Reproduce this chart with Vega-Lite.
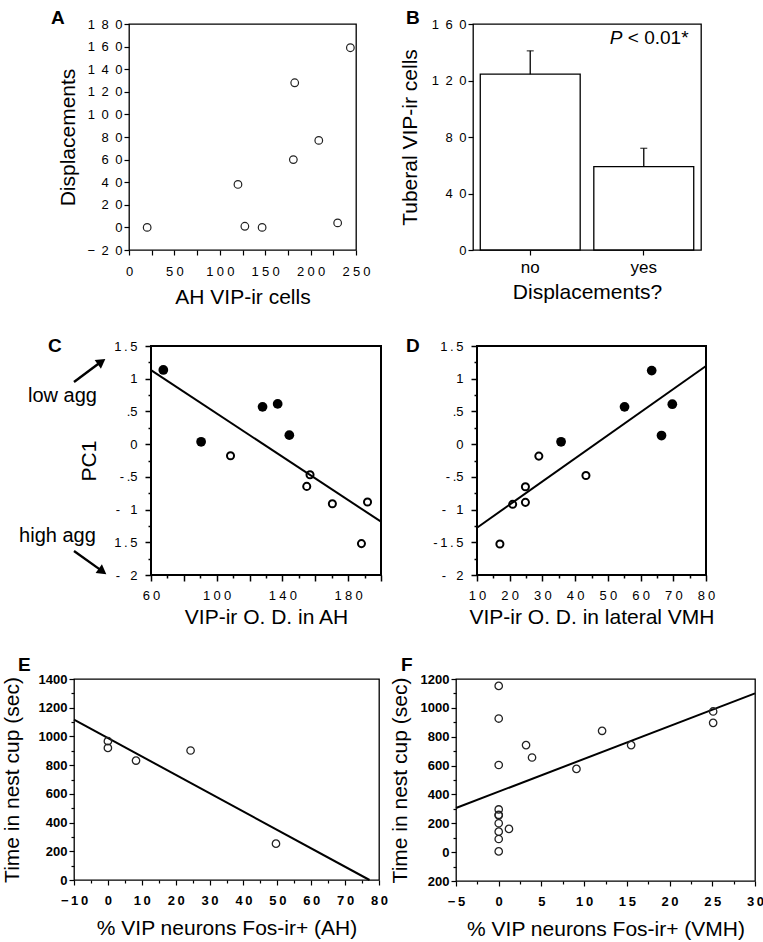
{
  "$schema": "https://vega.github.io/schema/vega-lite/v6.json",
  "padding": {"left": 0, "top": 8, "right": 0, "bottom": 0},
  "background": "white",
  "config": {
    "font": "Liberation Sans",
    "view": {"stroke": "black", "strokeWidth": 1.3},
    "axis": {"domain": false, "grid": false, "tickColor": "black", "labelColor": "black", "titleColor": "black", "labelFont": "Liberation Sans", "titleFont": "Liberation Sans", "titleFontWeight": "normal", "titleFontSize": 21, "labelFontSize": 13, "labelOverlap": false, "labelFlush": false, "labelBound": false, "tickSize": 5, "tickWidth": 1.2},
    "title": {"fontSize": 19, "fontWeight": "bold", "anchor": "start", "frame": "group", "color": "black", "font": "Liberation Sans", "offset": 0},
    "text": {"font": "Liberation Sans", "fontSize": 19, "color": "black"}
  },
  "datasets": {
    "A": [{"x": 20, "y": 0}, {"x": 120, "y": 38}, {"x": 127.6, "y": 1}, {"x": 146.6, "y": 0}, {"x": 181, "y": 60}, {"x": 182.5, "y": 128}, {"x": 209, "y": 77}, {"x": 229.8, "y": 4}, {"x": 243.8, "y": 159}],
    "B": [{"cat": "no", "mean": 124.5, "upper": 141}, {"cat": "yes", "mean": 59, "upper": 72}],
    "C_filled": [{"x": 67.5, "y": 1.134}, {"x": 90.5, "y": 0.036}, {"x": 127.9, "y": 0.57}, {"x": 137.1, "y": 0.615}, {"x": 144.2, "y": 0.137}],
    "C_open": [{"x": 108.4, "y": -0.178}, {"x": 156.8, "y": -0.468}, {"x": 154.8, "y": -0.646}, {"x": 170.4, "y": -0.91}, {"x": 191.8, "y": -0.885}, {"x": 188.1, "y": -1.52}],
    "C_fit": [{"x": 60, "y": 1.13}, {"x": 200, "y": -1.185}],
    "C_arrows": [{"label": "low agg", "x1": 13.13, "y1": 0.95, "x2": 28.0, "y2": 1.23}, {"label": "high agg", "x1": 13.13, "y1": -1.633, "x2": 28.6, "y2": -1.91}],
    "C_heads": [{"label": "low agg", "x": 29.9, "y": 1.26, "angle": 54}, {"label": "high agg", "x": 30.5, "y": -1.945, "angle": 126}],
    "C_labels": [{"label": "low agg", "x": -14.9, "y": 0.74}, {"label": "high agg", "x": -20.3, "y": -1.4}],
    "D_filled": [{"x": 35.7, "y": 0.036}, {"x": 55.1, "y": 0.57}, {"x": 63.4, "y": 1.124}, {"x": 66.4, "y": 0.132}, {"x": 69.7, "y": 0.61}],
    "D_open": [{"x": 17.0, "y": -1.526}, {"x": 20.9, "y": -0.92}, {"x": 24.8, "y": -0.65}, {"x": 24.8, "y": -0.89}, {"x": 28.9, "y": -0.183}, {"x": 43.3, "y": -0.478}],
    "D_fit": [{"x": 10, "y": -1.277}, {"x": 80, "y": 1.195}],
    "E": [{"x": 0, "y": 967}, {"x": 0, "y": 920}, {"x": 8.3, "y": 832}, {"x": 24.4, "y": 902}, {"x": 49.6, "y": 253}],
    "E_fit": [{"x": -10, "y": 1117}, {"x": 77.2, "y": 0}],
    "F": [{"x": 0, "y": 1152}, {"x": 0, "y": 926}, {"x": 0, "y": 604}, {"x": 0, "y": 296}, {"x": 0, "y": 259}, {"x": 0, "y": 255}, {"x": 0, "y": 200}, {"x": 0, "y": 142}, {"x": 0, "y": 91}, {"x": 0, "y": 5}, {"x": 1.2, "y": 161}, {"x": 3.2, "y": 742}, {"x": 3.9, "y": 656}, {"x": 9.1, "y": 577}, {"x": 12.1, "y": 841}, {"x": 15.5, "y": 742}, {"x": 25.1, "y": 975}, {"x": 25.1, "y": 896}],
    "F_fit": [{"x": -5, "y": 306}, {"x": 30, "y": 1100}]
  },
  "spacing": 0,
  "vconcat": [
    {
      "bounds": "flush",
      "spacing": 0,
      "hconcat": [
        {"width": 128, "height": 312, "data": {"values": []}, "mark": "point", "encoding": {}, "view": {"stroke": null, "fill": "white"}},
        {
          "width": 227, "height": 226,
          "title": {"text": "A", "dx": -78, "dy": 14},
          "encoding": {
            "x": {"field": "x", "type": "quantitative", "scale": {"domain": [0, 250], "nice": false, "zero": false},
              "axis": {"title": "AH VIP-ir cells", "values": [0, 25, 50, 75, 100, 125, 150, 175, 200, 225, 250], "labelExpr": "datum.value % 50 == 0 ? join(split(datum.label, ''), '\u2005') : ''", "labelPadding": 10, "titlePadding": 8}},
            "y": {"field": "y", "type": "quantitative", "scale": {"domain": [-20, 180], "nice": false, "zero": false},
              "axis": {"title": "Displacements", "values": [-20, 0, 20, 40, 60, 80, 100, 120, 140, 160, 180], "labelExpr": "join(split(datum.label, ''), '\u2002')", "labelPadding": 2, "titlePadding": 8}}
          },
          "layer": [
            {"data": {"values": [{}]}, "mark": {"type": "rule", "color": "#444", "strokeWidth": 1}, "encoding": {"y": {"datum": 0}, "x": {"datum": 0}, "x2": {"datum": 250}}},
            {"data": {"name": "A"}, "mark": {"type": "point", "shape": "circle", "filled": false, "stroke": "#222", "strokeWidth": 1.2, "size": 58, "opacity": 1}},
            {"data": {"values": [{}]}, "mark": {"type": "text", "text": "ρ", "fontStyle": "italic", "align": "left", "baseline": "middle"}, "encoding": {"x": {"datum": 10}, "y": {"datum": 169}}},
            {"data": {"values": [{}]}, "mark": {"type": "text", "text": "= 0.695", "align": "left", "baseline": "middle"}, "encoding": {"x": {"datum": 27.5}, "y": {"datum": 169}}},
            {"data": {"values": [{}]}, "mark": {"type": "text", "text": "P", "fontStyle": "italic", "align": "left", "baseline": "middle"}, "encoding": {"x": {"datum": 8.8}, "y": {"datum": 150}}},
            {"data": {"values": [{}]}, "mark": {"type": "text", "text": "< 0.05*", "align": "left", "baseline": "middle"}, "encoding": {"x": {"datum": 29.7}, "y": {"datum": 150}}}
          ]
        },
        {"width": 117, "height": 1, "data": {"values": []}, "mark": "point", "encoding": {}, "view": {"stroke": null}},
        {
          "width": 228, "height": 226,
          "title": {"text": "B", "dx": -67, "dy": 14},
          "data": {"name": "B"},
          "encoding": {
            "x": {"field": "cat", "type": "nominal", "scale": {"paddingInner": 0.12, "paddingOuter": 0.064},
              "axis": {"title": "Displacements?", "labelAngle": 0, "labelFontSize": 17, "labelPadding": 4, "titlePadding": 6}}
          },
          "layer": [
            {"mark": {"type": "bar", "fill": "white", "stroke": "black", "strokeWidth": 1.3},
              "encoding": {"y": {"field": "mean", "type": "quantitative", "scale": {"domain": [0, 160], "nice": false, "zero": false},
                "axis": {"title": "Tuberal VIP-ir cells", "values": [0, 10, 20, 30, 40, 50, 60, 70, 80, 90, 100, 110, 120, 130, 140, 150, 160], "labelExpr": "datum.value % 20 == 0 ? join(split(datum.label, ''), '\u2002') : ''", "labelPadding": 2, "titlePadding": 11}}}},
            {"mark": {"type": "rule", "color": "black", "strokeWidth": 1.3}, "encoding": {"y": {"field": "mean", "type": "quantitative"}, "y2": {"field": "upper"}}},
            {"mark": {"type": "tick", "color": "black", "size": 7, "thickness": 1.3}, "encoding": {"y": {"field": "upper", "type": "quantitative"}}},
            {"data": {"values": [{}]}, "mark": {"type": "text", "text": "P", "fontStyle": "italic", "align": "left", "baseline": "middle", "dx": -34}, "encoding": {"x": {"datum": "yes"}, "y": {"datum": 150}}},
            {"data": {"values": [{}]}, "mark": {"type": "text", "text": "< 0.01*", "align": "left", "baseline": "middle", "dx": -16}, "encoding": {"x": {"datum": "yes"}, "y": {"datum": 150}}}
          ]
        }
      ]
    },
    {
      "bounds": "flush",
      "spacing": 0,
      "hconcat": [
        {
          "width": 150, "height": 309,
          "view": {"stroke": null, "fill": "white"},
          "layer": [
            {"data": {"name": "C_labels"}, "mark": {"type": "text", "fontSize": 20, "align": "left", "baseline": "middle"},
              "encoding": {"x": {"field": "x", "type": "quantitative", "scale": {"domain": [-31.3, 60], "nice": false, "zero": false}, "axis": null},
                "y": {"field": "y", "type": "quantitative", "scale": {"domain": [-3.2226, 1.5], "nice": false, "zero": false}, "axis": null},
                "text": {"field": "label"}}},
            {"data": {"name": "C_arrows"}, "mark": {"type": "rule", "color": "black", "strokeWidth": 2.4},
              "encoding": {"x": {"field": "x1", "type": "quantitative", "axis": null}, "y": {"field": "y1", "type": "quantitative", "axis": null}, "x2": {"field": "x2"}, "y2": {"field": "y2"}}},
            {"data": {"name": "C_heads"}, "mark": {"type": "point", "shape": "triangle-up", "filled": true, "fill": "black", "size": 115, "opacity": 1},
              "encoding": {"x": {"field": "x", "type": "quantitative", "axis": null}, "y": {"field": "y", "type": "quantitative", "axis": null}, "angle": {"field": "angle", "type": "quantitative", "scale": null}}}
          ]
        },
        {
          "width": 230, "height": 229,
          "view": {"stroke": "black", "strokeWidth": 2},
          "title": {"text": "C", "dx": -103, "dy": 20},
          "encoding": {
            "x": {"field": "x", "type": "quantitative", "scale": {"domain": [60, 200], "nice": false, "zero": false},
              "axis": {"title": "VIP-ir O. D. in AH", "values": [60, 70, 80, 90, 100, 110, 120, 130, 140, 150, 160, 170, 180, 190, 200], "labelExpr": "(datum.value - 60) % 40 == 0 && datum.value < 200 ? join(split(datum.label, ''), '\u2005') : ''", "tickSize": {"condition": {"test": "datum.value % 20 == 0", "value": 6}, "value": 3}, "tickWidth": 1.5, "labelPadding": 8, "titlePadding": 4}},
            "y": {"field": "y", "type": "quantitative", "scale": {"domain": [-2, 1.5], "nice": false, "zero": false},
              "axis": {"title": "PC1", "values": [-2, -1.75, -1.5, -1.25, -1, -0.75, -0.5, -0.25, 0, 0.25, 0.5, 0.75, 1, 1.25, 1.5], "labelExpr": "datum.value % 0.5 != 0 ? '' : datum.value == 0.5 ? '.5' : datum.value == -0.5 ? '-\u2009.5' : datum.value == -1 ? '-\u2002 1' : datum.value == -1.5 ? '1\u2009.\u20095' : datum.value == -2 ? '-\u2002 2' : datum.value == 1.5 ? '1\u2009.\u20095' : datum.value == 1 ? '1' : '0'", "tickSize": {"condition": {"test": "datum.value % 0.5 == 0", "value": 6}, "value": 3}, "tickWidth": 1.5, "labelPadding": 8, "titlePadding": 14}}
          },
          "layer": [
            {"data": {"values": [{}]}, "mark": {"type": "rule", "color": "#aaa", "strokeWidth": 1}, "encoding": {"y": {"datum": 0}, "x": {"datum": 60}, "x2": {"datum": 200}}},
            {"data": {"name": "C_fit"}, "mark": {"type": "line", "color": "black", "strokeWidth": 2}},
            {"data": {"name": "C_open"}, "mark": {"type": "point", "shape": "circle", "filled": false, "stroke": "black", "strokeWidth": 2, "size": 50, "opacity": 1}},
            {"data": {"name": "C_filled"}, "mark": {"type": "point", "shape": "circle", "filled": true, "fill": "black", "size": 95, "opacity": 1}},
            {"data": {"values": [{}]}, "mark": {"type": "text", "text": "r", "fontStyle": "italic", "align": "left", "baseline": "middle"}, "encoding": {"x": {"datum": 134.9}, "y": {"datum": 1.3}}},
            {"data": {"values": [{}]}, "mark": {"type": "text", "text": "= -0.812", "align": "left", "baseline": "middle"}, "encoding": {"x": {"datum": 140.5}, "y": {"datum": 1.3}}},
            {"data": {"values": [{}]}, "mark": {"type": "text", "text": "P", "fontStyle": "italic", "align": "left", "baseline": "middle"}, "encoding": {"x": {"datum": 135.5}, "y": {"datum": 0.95}}},
            {"data": {"values": [{}]}, "mark": {"type": "text", "text": "= 0.0024*", "align": "left", "baseline": "middle"}, "encoding": {"x": {"datum": 145.5}, "y": {"datum": 0.95}}}
          ]
        },
        {"width": 96, "height": 1, "data": {"values": []}, "mark": "point", "encoding": {}, "view": {"stroke": null}},
        {
          "width": 229, "height": 229,
          "view": {"stroke": "black", "strokeWidth": 2},
          "title": {"text": "D", "dx": -71, "dy": 20},
          "encoding": {
            "x": {"field": "x", "type": "quantitative", "scale": {"domain": [10, 80], "nice": false, "zero": false},
              "axis": {"title": "VIP-ir O. D. in lateral VMH", "values": [10, 15, 20, 25, 30, 35, 40, 45, 50, 55, 60, 65, 70, 75, 80], "labelExpr": "datum.value % 10 == 0 ? join(split(datum.label, ''), '\u2005') : ''", "tickSize": {"condition": {"test": "datum.value % 10 == 0", "value": 6}, "value": 3}, "tickWidth": 1.5, "labelPadding": 8, "titlePadding": 4}},
            "y": {"field": "y", "type": "quantitative", "scale": {"domain": [-2, 1.5], "nice": false, "zero": false},
              "axis": {"title": null, "values": [-2, -1.75, -1.5, -1.25, -1, -0.75, -0.5, -0.25, 0, 0.25, 0.5, 0.75, 1, 1.25, 1.5], "labelExpr": "datum.value % 0.5 != 0 ? '' : datum.value == 0.5 ? '.5' : datum.value == -0.5 ? '-\u2009.5' : datum.value == -1 ? '-\u2002 1' : datum.value == -1.5 ? '-\u20091\u2009.\u20095' : datum.value == -2 ? '-\u2002 2' : datum.value == 1.5 ? '1\u2009.\u20095' : datum.value == 1 ? '1' : '0'", "tickSize": {"condition": {"test": "datum.value % 0.5 == 0", "value": 6}, "value": 3}, "tickWidth": 1.5, "labelPadding": 8}}
          },
          "layer": [
            {"data": {"values": [{}]}, "mark": {"type": "rule", "color": "#bbb", "strokeWidth": 1}, "encoding": {"y": {"datum": 0}, "x": {"datum": 10}, "x2": {"datum": 80}}},
            {"data": {"name": "D_fit"}, "mark": {"type": "line", "color": "black", "strokeWidth": 2}},
            {"data": {"name": "D_open"}, "mark": {"type": "point", "shape": "circle", "filled": false, "stroke": "black", "strokeWidth": 2, "size": 50, "opacity": 1}},
            {"data": {"name": "D_filled"}, "mark": {"type": "point", "shape": "circle", "filled": true, "fill": "black", "size": 95, "opacity": 1}},
            {"data": {"values": [{}]}, "mark": {"type": "text", "text": "r", "fontStyle": "italic", "align": "left", "baseline": "middle"}, "encoding": {"x": {"datum": 12.75}, "y": {"datum": 1.255}}},
            {"data": {"values": [{}]}, "mark": {"type": "text", "text": "= 0.872", "align": "left", "baseline": "middle"}, "encoding": {"x": {"datum": 15.6}, "y": {"datum": 1.255}}},
            {"data": {"values": [{}]}, "mark": {"type": "text", "text": "P", "fontStyle": "italic", "align": "left", "baseline": "middle"}, "encoding": {"x": {"datum": 12.75}, "y": {"datum": 0.889}}},
            {"data": {"values": [{}]}, "mark": {"type": "text", "text": "= 0.0005*", "align": "left", "baseline": "middle"}, "encoding": {"x": {"datum": 17.2}, "y": {"datum": 0.889}}}
          ]
        }
      ]
    },
    {
      "bounds": "flush",
      "spacing": 0,
      "hconcat": [
        {"width": 73, "height": 1, "data": {"values": []}, "mark": "point", "encoding": {}, "view": {"stroke": null, "fill": "white"}},
        {
          "width": 305, "height": 201,
          "title": {"text": "E", "dx": -56, "dy": 6},
          "encoding": {
            "x": {"field": "x", "type": "quantitative", "scale": {"domain": [-10, 80], "nice": false, "zero": false},
              "axis": {"title": "% VIP neurons Fos-ir+ (AH)", "values": [-10, -5, 0, 5, 10, 15, 20, 25, 30, 35, 40, 45, 50, 55, 60, 65, 70, 75, 80], "labelExpr": "datum.value % 10 == 0 ? join(split(datum.label, ''), '\u2009') : ''", "labelFontWeight": "bold", "tickSize": {"condition": {"test": "datum.value % 10 == 0", "value": 5}, "value": 3}, "labelPadding": 9, "titlePadding": 10}},
            "y": {"field": "y", "type": "quantitative", "scale": {"domain": [0, 1400], "nice": false, "zero": false},
              "axis": {"title": "Time in nest cup (sec)", "format": "d", "values": [0, 100, 200, 300, 400, 500, 600, 700, 800, 900, 1000, 1100, 1200, 1300, 1400], "labelExpr": "datum.value % 200 == 0 ? datum.label : ''", "labelFontWeight": "bold", "tickSize": {"condition": {"test": "datum.value % 200 == 0", "value": 5}, "value": 3}, "labelPadding": 2, "titlePadding": 16}}
          },
          "layer": [
            {"data": {"values": [{}]}, "mark": {"type": "rule", "color": "#888", "strokeWidth": 1}, "encoding": {"x": {"datum": 0}, "y": {"datum": 0}, "y2": {"datum": 1400}}},
            {"data": {"name": "E_fit"}, "mark": {"type": "line", "color": "black", "strokeWidth": 2}},
            {"data": {"name": "E"}, "mark": {"type": "point", "shape": "circle", "filled": false, "stroke": "#222", "strokeWidth": 1.3, "size": 55, "opacity": 1}},
            {"data": {"values": [{}]}, "mark": {"type": "text", "text": "r", "fontStyle": "italic", "align": "left", "baseline": "middle"}, "encoding": {"x": {"datum": 46.1}, "y": {"datum": 1295}}},
            {"data": {"values": [{}]}, "mark": {"type": "text", "text": "= 0.901", "align": "left", "baseline": "middle"}, "encoding": {"x": {"datum": 49}, "y": {"datum": 1295}}},
            {"data": {"values": [{}]}, "mark": {"type": "text", "text": "P", "fontStyle": "italic", "align": "left", "baseline": "middle"}, "encoding": {"x": {"datum": 45.2}, "y": {"datum": 1135}}},
            {"data": {"values": [{}]}, "mark": {"type": "text", "text": "= 0.0370*", "align": "left", "baseline": "middle"}, "encoding": {"x": {"datum": 50.3}, "y": {"datum": 1135}}}
          ]
        },
        {"width": 77, "height": 1, "data": {"values": []}, "mark": "point", "encoding": {}, "view": {"stroke": null}},
        {
          "width": 299, "height": 202,
          "title": {"text": "F", "dx": -55, "dy": 6},
          "encoding": {
            "x": {"field": "x", "type": "quantitative", "scale": {"domain": [-5, 30], "nice": false, "zero": false},
              "axis": {"title": "% VIP neurons Fos-ir+ (VMH)", "values": [-5, -2.5, 0, 2.5, 5, 7.5, 10, 12.5, 15, 17.5, 20, 22.5, 25, 27.5, 30], "labelExpr": "datum.value % 5 == 0 ? join(split(datum.label, ''), '\u2009') : ''", "labelFontWeight": "bold", "tickSize": {"condition": {"test": "datum.value % 5 == 0", "value": 5}, "value": 3}, "labelPadding": 9, "titlePadding": 10}},
            "y": {"field": "y", "type": "quantitative", "scale": {"domain": [-200, 1200], "nice": false, "zero": false},
              "axis": {"title": "Time in nest cup (sec)", "format": "d", "values": [-200, -100, 0, 100, 200, 300, 400, 500, 600, 700, 800, 900, 1000, 1100, 1200], "labelExpr": "datum.value == -200 ? '200' : datum.value % 200 == 0 ? datum.label : ''", "labelFontWeight": "bold", "tickSize": {"condition": {"test": "datum.value % 200 == 0", "value": 5}, "value": 3}, "labelPadding": 2, "titlePadding": 10}}
          },
          "layer": [
            {"data": {"values": [{}]}, "mark": {"type": "rule", "color": "#999", "strokeWidth": 1}, "encoding": {"x": {"datum": 0}, "y": {"datum": -200}, "y2": {"datum": 1200}}},
            {"data": {"values": [{}]}, "mark": {"type": "rule", "color": "#999", "strokeWidth": 1}, "encoding": {"y": {"datum": 0}, "x": {"datum": -5}, "x2": {"datum": 30}}},
            {"data": {"name": "F_fit"}, "mark": {"type": "line", "color": "black", "strokeWidth": 2}},
            {"data": {"name": "F"}, "mark": {"type": "point", "shape": "circle", "filled": false, "stroke": "#222", "strokeWidth": 1.3, "size": 55, "opacity": 1}},
            {"data": {"values": [{}]}, "mark": {"type": "text", "text": "r", "fontStyle": "italic", "align": "left", "baseline": "middle"}, "encoding": {"x": {"datum": 17.0}, "y": {"datum": 244}}},
            {"data": {"values": [{}]}, "mark": {"type": "text", "text": "= 0.054", "align": "left", "baseline": "middle"}, "encoding": {"x": {"datum": 18.3}, "y": {"datum": 244}}},
            {"data": {"values": [{}]}, "mark": {"type": "text", "text": "P", "fontStyle": "italic", "align": "left", "baseline": "middle"}, "encoding": {"x": {"datum": 16.8}, "y": {"datum": 77}}},
            {"data": {"values": [{}]}, "mark": {"type": "text", "text": "= 0.0253*", "align": "left", "baseline": "middle"}, "encoding": {"x": {"datum": 18.9}, "y": {"datum": 77}}}
          ]
        }
      ]
    }
  ]
}
